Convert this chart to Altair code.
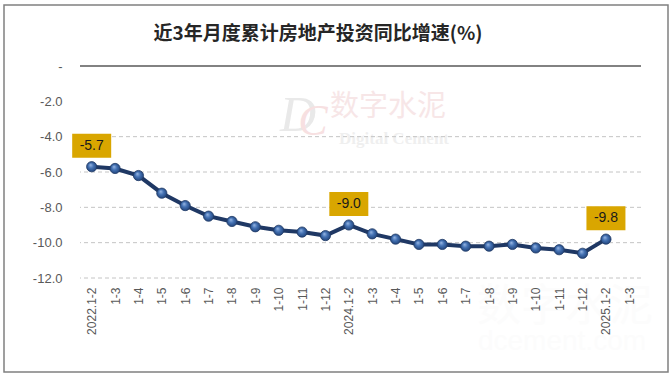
import altair as alt
import pandas as pd

# ---------------- data ----------------
periods = ["1-2", "1-3", "1-4", "1-5", "1-6", "1-7", "1-8", "1-9", "1-10", "1-11", "1-12",
           "1-2", "1-3", "1-4", "1-5", "1-6", "1-7", "1-8", "1-9", "1-10", "1-11", "1-12",
           "1-2", "1-3"]
years = ["2022"] * 11 + ["2024"] * 11 + ["2025"] * 2
values = [-5.7, -5.8, -6.2, -7.2, -7.9, -8.5, -8.8, -9.1, -9.3, -9.4, -9.6,
          -9.0, -9.5, -9.8, -10.1, -10.1, -10.2, -10.2, -10.1, -10.3, -10.4, -10.6,
          -9.8]
label_idx = [0, 11, 22]
y_ticks = [0, -2, -4, -6, -8, -10, -12]
grid_vals = [-4, -6, -8, -10, -12]
title_text = "近3年月度累计房地产投资同比增速(%)"

keys = [f"{y}.{p}" for y, p in zip(years, periods)]
df = pd.DataFrame({"key": keys[:len(values)], "value": values})
df_lab = df.iloc[label_idx].copy()
df_lab["txt"] = df_lab["value"].map(lambda v: f"{v:.1f}")
df_grid = pd.DataFrame({"value": grid_vals})
df_zero = pd.DataFrame({"value": [0]})

W, H = 561, 212
FONT = "Liberation Sans"

xscale = alt.Scale(domain=keys, padding=0.5)
xaxis = alt.Axis(title=None, labelAngle=270, labelAlign="right", labelBaseline="middle",
                 labelPadding=9, labelFontSize=12, labelColor="#595959", labelFont=FONT,
                 domain=False, ticks=False, grid=False, labelOverlap=False, zindex=1,
                 labelExpr="split(datum.value, '.')[1] == '1-2' ? datum.value : split(datum.value, '.')[1]")
yscale = alt.Scale(domain=[-12, 0], nice=False, zero=False)
yaxis = alt.Axis(title=None, values=y_ticks, labelFontSize=13, labelColor="#595959",
                 labelFont=FONT, labelPadding=18, domain=False, ticks=False, grid=False,
                 labelOverlap=False, labelFlush=False, labelBound=False, zindex=1,
                 labelExpr="datum.value == 0 ? '-' : '-' + format(abs(datum.value), '.1f')")
xenc = alt.X("key:N", sort=keys, scale=xscale, axis=xaxis)
yenc = alt.Y("value:Q", scale=yscale, axis=yaxis)

one = pd.DataFrame({"a": [0]})

# frame around whole chart (decoration)
frame = alt.Chart(one).mark_rect(
    fill=None, stroke="#808080", strokeWidth=1.5
).encode(x=alt.value(-76), x2=alt.value(588), y=alt.value(-61), y2=alt.value(306))

# title as a text mark
title = alt.Chart(one).mark_text(text=title_text, font="Noto Sans CJK SC", fontSize=19,
                                 fontWeight="bold", color="#262626", align="center",
                                 baseline="middle").encode(x=alt.value(238), y=alt.value(-32))

# watermark (decoration, very faint)
wm1 = alt.Chart(one).mark_text(text="数字水泥", font="Noto Sans CJK SC", fontSize=29,
                               color="#F7E6E7", align="center", baseline="middle").encode(
    x=alt.value(308), y=alt.value(41))
wm2 = alt.Chart(one).mark_text(text="Digital Cement", font="Liberation Serif", fontSize=17,
                               fontWeight="bold", color="#EFEFEF", align="center",
                               baseline="middle").encode(x=alt.value(314), y=alt.value(73))
wm3 = alt.Chart(one).mark_text(text="D", font="Liberation Serif", fontSize=50, fontStyle="italic",
                               color="#E9E9E9", align="center", baseline="middle").encode(
    x=alt.value(218), y=alt.value(50))
wm4 = alt.Chart(one).mark_text(text="C", font="Liberation Serif", fontSize=44, fontStyle="italic",
                               color="#F7E0E1", align="center", baseline="middle").encode(
    x=alt.value(233), y=alt.value(56))
wm5 = alt.Chart(one).mark_text(text="数字水泥", font="Noto Sans CJK SC", fontSize=44,
                               color="#FCFCFC", align="center", baseline="middle").encode(
    x=alt.value(485), y=alt.value(242))
wm6 = alt.Chart(one).mark_text(text="dcement.com", font="Liberation Sans", fontSize=28,
                               color="#FCFCFC", align="center", baseline="middle").encode(
    x=alt.value(482), y=alt.value(276))

grid = alt.Chart(df_grid).mark_rule(color="#C4C4C4", strokeWidth=1, strokeDash=[4, 3]).encode(
    y=yenc)
zero = alt.Chart(df_zero).mark_rule(color="#595959", strokeWidth=1.5).encode(y=yenc)

line = alt.Chart(df).mark_line(color="#1F3864", strokeWidth=4).encode(x=xenc, y=yenc)

sphere = alt.RadialGradient(
    gradient="radial", x1=0.38, y1=0.32, r1=0.0, x2=0.5, y2=0.5, r2=0.55,
    stops=[alt.GradientStop(offset=0, color="#9DBBE6"),
           alt.GradientStop(offset=0.45, color="#4472B4"),
           alt.GradientStop(offset=1, color="#1E3F74")])
pts = alt.Chart(df).mark_point(filled=True, fill=sphere, stroke="#1F3A66", strokeWidth=0.8,
                               size=105, opacity=1).encode(x=xenc, y=yenc)

box = alt.Chart(df_lab).mark_point(
    shape="M-1,-0.615L1,-0.615L1,0.615L-1,0.615Z", size=1521, filled=True,
    fill="#D9A600", stroke=None, opacity=1, yOffset=-21
).encode(x=xenc, y=yenc)
txt = alt.Chart(df_lab).mark_text(font=FONT, fontSize=14, color="#1A1A1A", yOffset=-21,
                                  align="center", baseline="middle").encode(
    x=xenc, y=yenc, text="txt:N")

chart = alt.layer(frame, title, wm3, wm4, wm1, wm2, wm5, wm6, grid, zero, line, pts, box, txt).properties(
    width=W, height=H,
    autosize=alt.AutoSizeParams(type="none"),
    padding={"left": 80, "top": 66, "right": 31, "bottom": 100},
    background="white",
).configure_view(stroke=None)

chart.save("out.html", embed_options={"renderer": "svg", "actions": False})
